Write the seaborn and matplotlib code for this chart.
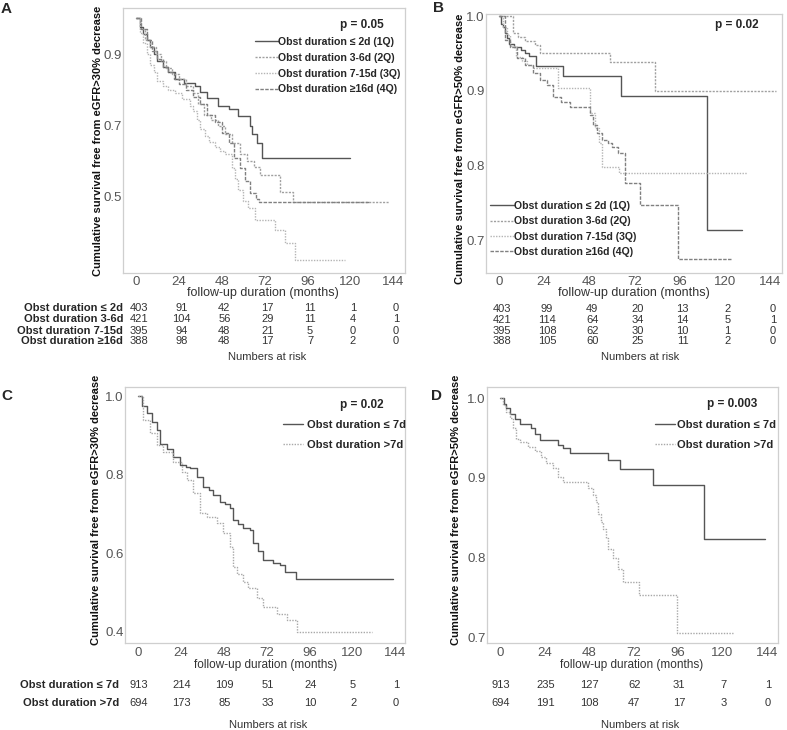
import numpy as np
import pandas as pd
import seaborn as sns
import matplotlib.pyplot as plt
from matplotlib.ticker import FormatStrFormatter
from matplotlib.transforms import blended_transform_factory

# ---- data ----
months = [0, 24, 48, 72, 96, 120, 144]

quart_labels = ['Obst duration ≤ 2d (1Q)', 'Obst duration 3-6d (2Q)',
                'Obst duration 7-15d (3Q)', 'Obst duration ≥16d (4Q)']
quart_rows = ['Obst duration ≤ 2d', 'Obst duration 3-6d',
              'Obst duration 7-15d', 'Obst duration ≥16d']
bin_labels = ['Obst duration ≤ 7d', 'Obst duration >7d']

# panel A : eGFR > 30% decrease, quartiles
a1_t = [0, 2, 4, 6, 8, 10, 12, 15, 18, 22, 27, 33, 36, 40, 46, 52, 57, 64, 65, 68, 70.5, 120]
a1_s = [1.0, 0.975, 0.955, 0.94, 0.92, 0.90, 0.88, 0.865, 0.85, 0.83, 0.82, 0.81, 0.795,
        0.778, 0.755, 0.745, 0.727, 0.70, 0.675, 0.65, 0.608, 0.608]
a2_t = [0, 2, 5, 8, 11, 14, 17, 20, 24, 28, 32, 35, 38, 42, 46, 50, 54, 58, 62, 66, 69.5,
        80.7, 88, 142]
a2_s = [1.0, 0.97, 0.94, 0.92, 0.90, 0.88, 0.86, 0.845, 0.83, 0.81, 0.79, 0.76, 0.73, 0.715,
        0.70, 0.675, 0.65, 0.62, 0.60, 0.585, 0.561, 0.515, 0.485, 0.485]
a3_t = [0, 2, 4, 6, 8, 10, 12, 15, 18, 22, 26, 30, 32, 34, 36, 38.7, 41, 44, 47, 50, 53.6,
        55.5, 57.3, 60, 63, 66.7, 77.9, 83.5, 89, 117]
a3_s = [1.0, 0.96, 0.93, 0.90, 0.87, 0.85, 0.825, 0.81, 0.80, 0.79, 0.775, 0.755, 0.74, 0.715,
        0.69, 0.67, 0.655, 0.64, 0.63, 0.62, 0.58, 0.55, 0.52, 0.49, 0.47, 0.436, 0.408,
        0.370, 0.324, 0.324]
a4_t = [0, 3, 6, 9, 12, 15, 18, 21, 24, 28, 32, 36, 40, 44, 48, 52, 55, 58, 61, 64, 67, 69, 131]
a4_s = [1.0, 0.97, 0.94, 0.91, 0.885, 0.865, 0.85, 0.83, 0.815, 0.80, 0.78, 0.76, 0.73, 0.71,
        0.68, 0.65, 0.61, 0.58, 0.545, 0.51, 0.495, 0.485, 0.485]

# panel B : eGFR > 50% decrease, quartiles
b1_t = [0, 1, 2, 3, 4, 5.5, 8, 11.7, 14, 16, 19.7, 33.8, 64.8, 110.4, 129]
b1_s = [1.0, 0.99, 0.985, 0.978, 0.97, 0.963, 0.958, 0.955, 0.95, 0.947, 0.933, 0.920,
        0.893, 0.715, 0.715]
b2_t = [0, 7.5, 10, 14, 19, 22, 59, 83, 147]
b2_s = [1.0, 0.977, 0.972, 0.967, 0.961, 0.950, 0.939, 0.900, 0.900]
b3_t = [0, 2, 4, 6, 9, 12, 15, 18, 24, 31.5, 48.4, 51, 53, 54.6, 64, 131.6]
b3_s = [1.0, 0.985, 0.975, 0.96, 0.945, 0.94, 0.935, 0.93, 0.93, 0.904, 0.87, 0.85, 0.83,
        0.799, 0.79, 0.79]
b4_t = [0, 3.2, 5.8, 9.4, 14, 18.2, 22, 25.3, 28.9, 33, 37.7, 48.4, 50, 51.9, 55, 58, 60,
        63.4, 67, 75, 95.3, 123.6]
b4_s = [1.0, 0.968, 0.959, 0.944, 0.935, 0.924, 0.915, 0.908, 0.892, 0.885, 0.879, 0.868,
        0.855, 0.844, 0.835, 0.83, 0.825, 0.817, 0.777, 0.748, 0.676, 0.676]

# panel C : eGFR > 30% decrease, 7 days cut-off
c1_t = [0, 2, 5, 8, 10.5, 12.3, 16, 19.8, 23.5, 27, 29, 32.9, 36.6, 40, 42.2, 45.9, 49,
        51.5, 53.4, 56, 59, 62.7, 64.6, 67, 70.2, 75.8, 79.6, 82.4, 88.5, 143]
c1_s = [1.0, 0.975, 0.956, 0.935, 0.913, 0.879, 0.865, 0.845, 0.824, 0.82, 0.816, 0.794,
        0.769, 0.76, 0.748, 0.731, 0.725, 0.714, 0.684, 0.675, 0.663, 0.659, 0.625, 0.605,
        0.582, 0.575, 0.569, 0.552, 0.535, 0.535]
c2_t = [0, 3, 6.7, 10.5, 14.2, 19.8, 24.5, 27.3, 31, 34.7, 38.5, 44.1, 47.8, 51.5, 53.4,
        55.3, 59, 61.8, 66.5, 70.2, 77.7, 83.3, 88.9, 131]
c2_s = [1.0, 0.939, 0.905, 0.875, 0.858, 0.833, 0.807, 0.786, 0.752, 0.701, 0.692, 0.676,
        0.65, 0.616, 0.565, 0.548, 0.527, 0.51, 0.485, 0.463, 0.446, 0.429, 0.40, 0.40]

# panel D : eGFR > 50% decrease, 7 days cut-off
d1_t = [0, 2, 3.4, 5.5, 7.9, 10.6, 16.7, 19, 21.4, 31.3, 34, 37.6, 58.3, 64.6, 82.4, 110, 143]
d1_s = [1.0, 0.993, 0.987, 0.98, 0.974, 0.968, 0.962, 0.955, 0.947, 0.941, 0.937, 0.931,
        0.922, 0.911, 0.891, 0.823, 0.823]
d2_t = [0, 1.6, 3.4, 5.2, 7, 8.8, 10.6, 15.1, 18.7, 22.3, 25, 28.6, 31.3, 34, 47.5, 50, 52,
        53, 54.5, 55.8, 57, 58.4, 61, 63.8, 66.5, 75.2, 95.3, 125.8]
d2_s = [1.0, 0.991, 0.983, 0.975, 0.962, 0.949, 0.945, 0.939, 0.933, 0.926, 0.918, 0.912,
        0.901, 0.895, 0.887, 0.878, 0.87, 0.855, 0.845, 0.836, 0.825, 0.811, 0.80, 0.786,
        0.770, 0.753, 0.706, 0.706]

# numbers at risk
risk_a = [[403, 91, 42, 17, 11, 1, 0], [421, 104, 56, 29, 11, 4, 1],
          [395, 94, 48, 21, 5, 0, 0], [388, 98, 48, 17, 7, 2, 0]]
risk_b = [[403, 99, 49, 20, 13, 2, 0], [421, 114, 64, 34, 14, 5, 1],
          [395, 108, 62, 30, 10, 1, 0], [388, 105, 60, 25, 11, 2, 0]]
risk_c = [[913, 214, 109, 51, 24, 5, 1], [694, 173, 85, 33, 10, 2, 0]]
risk_d = [[913, 235, 127, 62, 31, 7, 1], [694, 191, 108, 47, 17, 3, 0]]

p_values = ['p = 0.05', 'p = 0.02', 'p = 0.02', 'p = 0.003']

# ---- styling ----
sns.set_style('white')
plt.rcParams['font.family'] = ['Liberation Sans', 'DejaVu Sans']

W, H = 787, 730
fig = plt.figure(figsize=(W / 100, H / 100), dpi=100)

quart_pal = dict(zip(quart_labels, ['#555555', '#a0a0a0', '#b4b4b4', '#808080']))
quart_dash = dict(zip(quart_labels, ['', (1.5, 1), (1, 1), (2.5, 1)]))
bin_pal = dict(zip(bin_labels, ['#555555', '#a8a8a8']))
bin_dash = dict(zip(bin_labels, ['', (1, 1)]))


def fy(py):
    return 1 - py / H


def make_axes(l, t, r, b):
    return fig.add_axes([l / W, 1 - b / H, (r - l) / W, (b - t) / H])


def km_panel(ax, curves, labels, pal, dashes, xlim, ylim, yticks, ylabel, xpad):
    rows = []
    for lab, (tt, ss) in zip(labels, curves):
        rows.append(pd.DataFrame({'t': tt, 's': ss, 'group': lab}))
    df = pd.concat(rows, ignore_index=True)
    sns.lineplot(data=df, x='t', y='s', hue='group', style='group', hue_order=labels,
                 style_order=labels, palette=pal, dashes=dashes, estimator=None,
                 sort=False, drawstyle='steps-post', lw=1.0, legend=False, ax=ax)
    ax.set_xlim(*xlim)
    ax.set_ylim(*ylim)
    ax.set_xticks(months)
    ax.set_yticks(yticks)
    ax.yaxis.set_major_formatter(FormatStrFormatter('%.1f'))
    ax.tick_params(length=0, labelsize=9.5, labelcolor='#555555')
    ax.tick_params(axis='y', pad=1)
    ax.tick_params(axis='x', pad=xpad)
    for sp in ax.spines.values():
        sp.set_color('#cfcfcf')
        sp.set_linewidth(0.9)
    ax.set_ylabel(ylabel, fontsize=8, fontweight='bold', color='#111111')
    ax.set_xlabel('')
    return df


def risk_table(ax, table, ys, shift, fs=8):
    tr = blended_transform_factory(ax.transData, fig.transFigure)
    for row, py in zip(table, ys):
        for m, n in zip(months, row):
            ax.text(m + shift, fy(py), str(n), transform=tr, ha='center', va='center',
                    fontsize=fs, color='#333333')


def xlabel_text(px, py, fs):
    fig.text(px / W, fy(py), 'follow-up duration (months)', ha='center', va='center',
             fontsize=fs, color='#333333')


# ---------- A ----------
axA = make_axes(123, 8, 405, 273)
km_panel(axA, [(a1_t, a1_s), (a2_t, a2_s), (a3_t, a3_s), (a4_t, a4_s)], quart_labels,
         quart_pal, quart_dash, (-7.3, 150.7), (0.287, 1.029), [0.5, 0.7, 0.9],
         'Cumulative survival free from eGFR>30% decrease', 2)
axA.yaxis.set_label_coords((103 - 123) / 282, 0.5)
axA.legend(handles=axA.lines[:4], labels=quart_labels, loc='upper right',
           bbox_to_anchor=((400 - 123) / 282, (273 - 37) / 265), frameon=False,
           prop={'size': 7.6, 'weight': 'bold'}, handlelength=2.1, handletextpad=0.0,
           labelspacing=0.55, borderpad=0, borderaxespad=0)
fig.text(362 / W, fy(25), p_values[0], ha='center', va='center', fontsize=8.5,
         fontweight='bold')
xlabel_text(263, 293, 9)
risk_table(axA, risk_a, [308, 319, 331, 341], 1.5)
for lab, py in zip(quart_rows, [308, 319, 331, 341]):
    fig.text(123 / W, fy(py), lab, ha='right', va='center', fontsize=8, fontweight='bold')
fig.text(267 / W, fy(357), 'Numbers at risk', ha='center', va='center', fontsize=8,
         color='#333333')

# ---------- B ----------
axB = make_axes(486, 14, 782, 273)
km_panel(axB, [(b1_t, b1_s), (b2_t, b2_s), (b3_t, b3_s), (b4_t, b4_s)], quart_labels,
         quart_pal, quart_dash, (-6.9, 150.4), (0.657, 1.0027), [0.7, 0.8, 0.9, 1.0],
         'Cumulative survival free from eGFR>50% decrease', 2)
axB.yaxis.set_label_coords((465 - 486) / 296, 0.48)
axB.legend(handles=axB.lines[:4], labels=quart_labels, loc='lower left',
           bbox_to_anchor=((490 - 486) / 296, (273 - 257) / 259), frameon=False,
           prop={'size': 7.6, 'weight': 'bold'}, handlelength=2.3, handletextpad=0.0,
           labelspacing=0.5, borderpad=0, borderaxespad=0)
fig.text(737 / W, fy(25), p_values[1], ha='center', va='center', fontsize=8.5,
         fontweight='bold')
xlabel_text(634, 293, 9)
risk_table(axB, risk_b, [309, 320, 331, 341], 1.5)
fig.text(640 / W, fy(357), 'Numbers at risk', ha='center', va='center', fontsize=8,
         color='#333333')

# ---------- C ----------
axC = make_axes(125, 387, 405, 643)
km_panel(axC, [(c1_t, c1_s), (c2_t, c2_s)], bin_labels, bin_pal, bin_dash,
         (-7.3, 149.6), (0.371, 1.023), [0.4, 0.6, 0.8, 1.0],
         'Cumulative survival free from eGFR>30% decrease', 3)
axC.yaxis.set_label_coords((101 - 125) / 280, 0.52)
axC.legend(handles=axC.lines[:2], labels=bin_labels, loc='upper left',
           bbox_to_anchor=((283 - 125) / 280, (643 - 420) / 256), frameon=False,
           prop={'size': 8, 'weight': 'bold'}, handlelength=1.8, handletextpad=0.35,
           labelspacing=0.9, borderpad=0, borderaxespad=0)
fig.text(362 / W, fy(405), p_values[2], ha='center', va='center', fontsize=8.5,
         fontweight='bold')
xlabel_text(266, 665, 8.5)
risk_table(axC, risk_c, [685, 703], 0.5)
for lab, py in zip(bin_labels, [685, 703]):
    fig.text(119 / W, fy(py), lab, ha='right', va='center', fontsize=8, fontweight='bold')
fig.text(268 / W, fy(725), 'Numbers at risk', ha='center', va='center', fontsize=8,
         color='#333333')

# ---------- D ----------
axD = make_axes(487, 387, 778, 643)
km_panel(axD, [(d1_t, d1_s), (d2_t, d2_s)], bin_labels, bin_pal, bin_dash,
         (-7.0, 150.0), (0.693, 1.0138), [0.7, 0.8, 0.9, 1.0],
         'Cumulative survival free from eGFR>50% decrease', 3)
axD.yaxis.set_label_coords((461 - 487) / 291, 0.52)
axD.legend(handles=axD.lines[:2], labels=bin_labels, loc='upper left',
           bbox_to_anchor=((655 - 487) / 291, (643 - 420) / 256), frameon=False,
           prop={'size': 8, 'weight': 'bold'}, handlelength=1.8, handletextpad=0.15,
           labelspacing=0.9, borderpad=0, borderaxespad=0)
fig.text(732 / W, fy(404), p_values[3], ha='center', va='center', fontsize=8.5,
         fontweight='bold')
xlabel_text(632, 665, 8.5)
risk_table(axD, risk_d, [685, 703], 0.5)
fig.text(640 / W, fy(725), 'Numbers at risk', ha='center', va='center', fontsize=8,
         color='#333333')

# panel letters
for letter, px, py in [('A', 6, 9), ('B', 438, 8), ('C', 7, 396), ('D', 437, 396)]:
    fig.text(px / W, fy(py), letter, ha='center', va='center', fontsize=11,
             fontweight='bold')

fig.savefig('out.png', dpi=100)
